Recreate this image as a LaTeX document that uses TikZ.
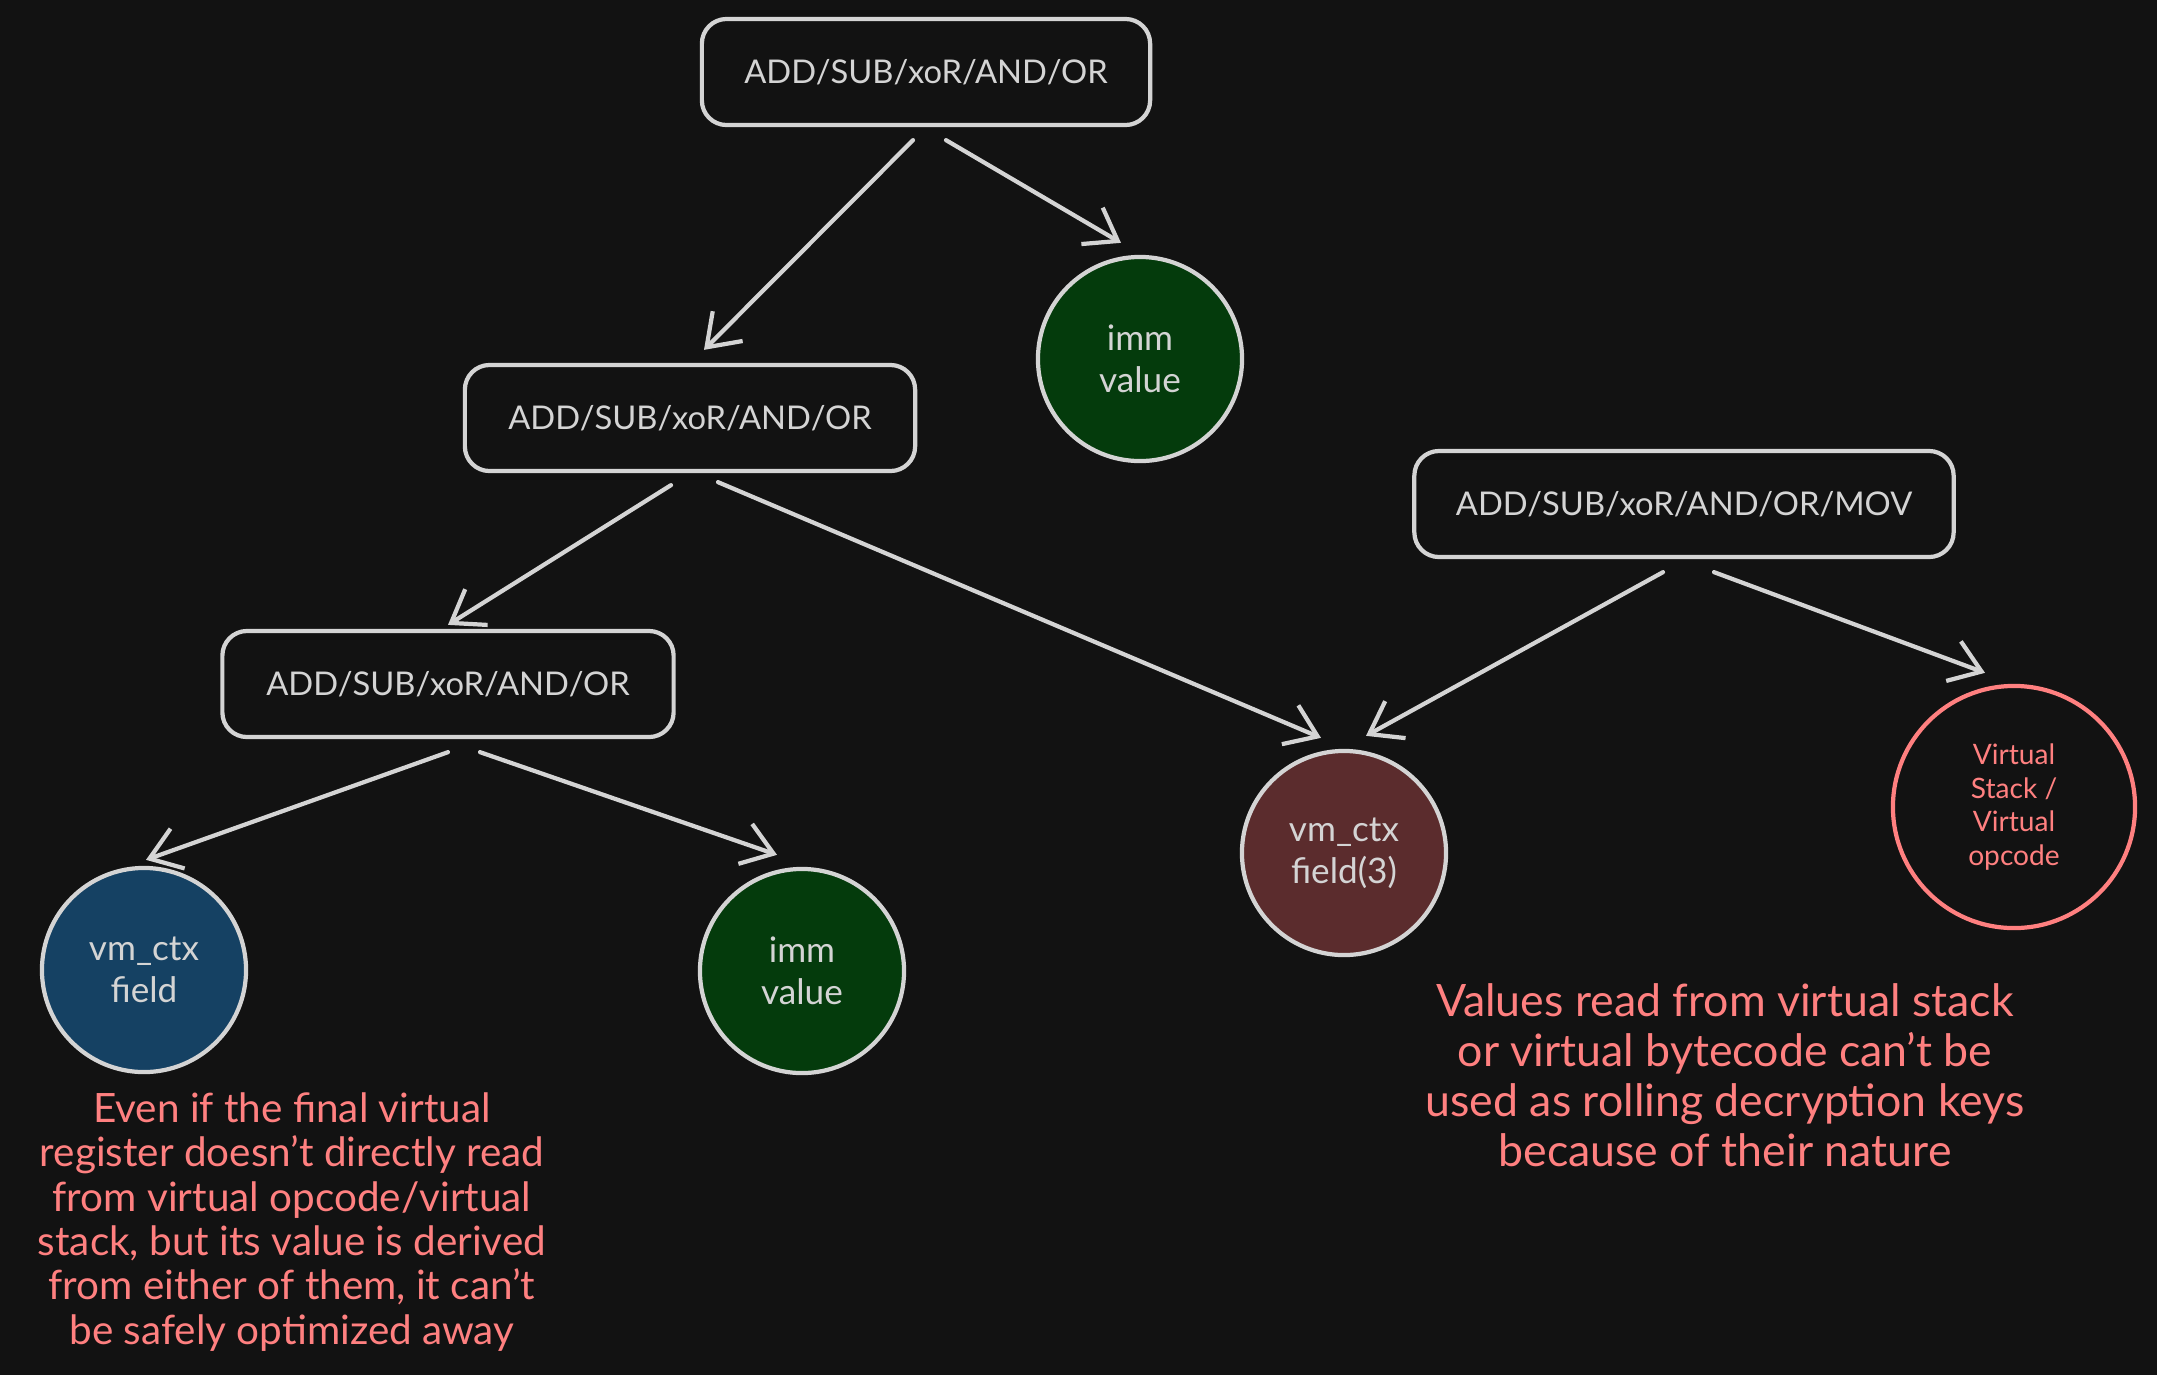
\documentclass[tikz,border=0pt]{standalone}
\usepackage{fontspec}
\setmainfont{Lato}
\usetikzlibrary{arrows.meta}

\definecolor{bgc}{HTML}{121212}
\definecolor{inkc}{HTML}{D4D4D4}
\definecolor{notec}{HTML}{FF8080}
\definecolor{immc}{HTML}{043B0C}
\definecolor{ctxc}{HTML}{154163}
\definecolor{ctxthreec}{HTML}{5B2C2D}
\newcommand\ops{ADD/SUB/xoR/AND/OR}

\begin{document}
\begin{tikzpicture}[x=0.01cm,y=-0.01cm,
  >={Straight Barb[length=8.5pt,width=12pt]},
  every node/.style={text=inkc},
  opbox/.style={draw=inkc,line width=1.2pt,rounded corners=7pt,minimum height=1.06cm,
    font=\fontsize{9.3}{11}\selectfont},
  ball/.style={circle,draw=inkc,line width=1.2pt,minimum size=2.04cm,align=center,
    inner sep=0pt,font=\fontsize{10}{12}\selectfont},
  link/.style={->,draw=inkc,line width=1.2pt,line cap=round},
  note/.style={text=notec,align=center}]
  \fill[bgc] (0,0) rectangle (2157,1375);

  % operation boxes
  \node[opbox,minimum width=4.48cm] (top) at (926,72) {\ops};
  \node[opbox,minimum width=4.50cm] (mid) at (690,418) {\ops};
  \node[opbox,minimum width=4.51cm] (low) at (448,684) {\ops};
  \node[opbox,minimum width=5.39cm] (mov) at (1684,504) {\ops/MOV};

  % operands
  \node[ball,fill=immc] (immtop) at (1140,359) {imm\\value};
  \node[ball,fill=ctxc] (ctx) at (144,970) {vm\_ctx\\field};
  \node[ball,fill=immc] (immlow) at (802,971) {imm\\value};
  \node[ball,fill=ctxthreec] (ctxthree) at (1344,853) {vm\_ctx\\field(3)};
  \node[ball,draw=notec,text=notec,minimum size=2.42cm,font=\fontsize{8}{9.5}\selectfont]
    (vstack) at (2014,807) {Virtual\\Stack /\\Virtual\\opcode};

  \draw[link] ([shift={(-13,13)}]top.south) -- ([shift={(14,-13)}]mid.north);
  \draw[link] ([shift={(20,13)}]top.south) -- ([shift={(-19,-12)}]immtop.north);
  \draw[link] ([shift={(-19,12)}]mid.south) -- ([shift={(0,-4)}]low.north);
  \draw[link] ([shift={(28,9)}]mid.south) -- ([shift={(-23,-11)}]ctxthree.north);
  \draw[link] ([shift={(0,13)}]low.south) -- ([shift={(2,-6)}]ctx.north);
  \draw[link] ([shift={(32,13)}]low.south) -- ([shift={(-25,-12)}]immlow.north);
  \draw[link] ([shift={(-21,13)}]mov.south) -- ([shift={(22,-13)}]ctxthree.north);
  \draw[link] ([shift={(30,13)}]mov.south) -- ([shift={(-29,-11)}]vstack.north);

  % notes
  \node[note,font=\fontsize{11.5}{12.6}\selectfont] (leftnote) at (292,1222)
    {Even if the final virtual\\register doesn't directly read\\from virtual opcode/virtual\\
     stack, but its value is derived\\from either of them, it can't\\be safely optimized away};
  \node[note,font=\fontsize{12.7}{14.2}\selectfont] (rightnote) at (1725,1075)
    {Values read from virtual stack\\or virtual bytecode can't be\\used as rolling decryption keys\\
     because of their nature};
\end{tikzpicture}
\end{document}
